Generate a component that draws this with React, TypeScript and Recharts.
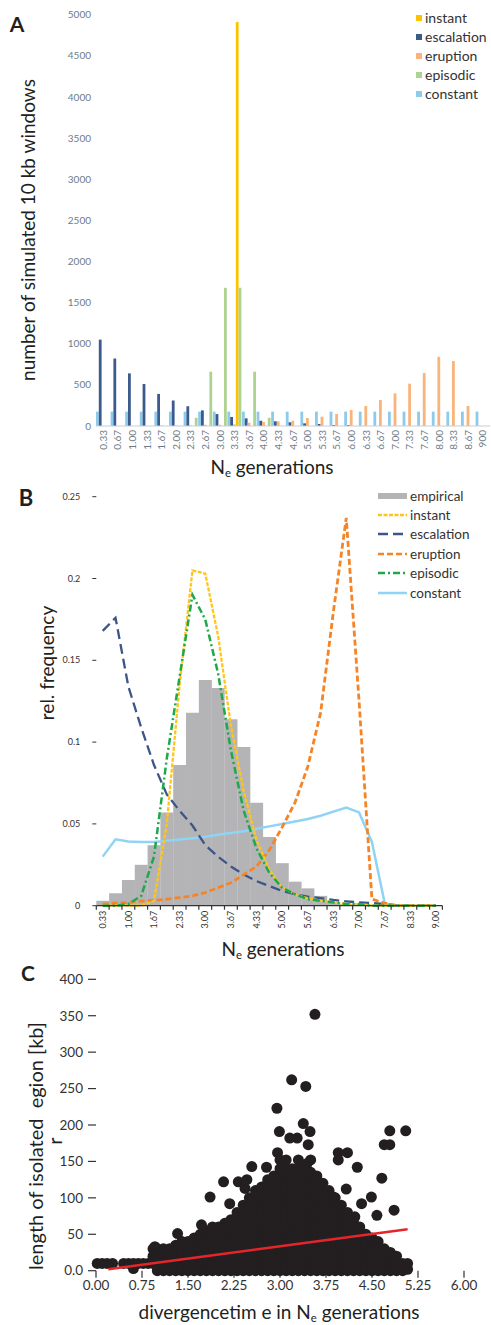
import { BarChart, Bar, XAxis, YAxis, ComposedChart, Line, ScatterChart, Scatter } from 'recharts'

// ---- panel A: simulated windows per N_e generation class ----
const gensA = ['0.33', '0.67', '1.00', '1.33', '1.67', '2.00', '2.33', '2.67', '3.00', '3.33', '3.67', '4.00', '4.33', '4.67', '5.00', '5.33', '5.67', '6.00', '6.33', '6.67', '7.00', '7.33', '7.67', '8.00', '8.33', '8.67', '900']
const constantA = [175, 175, 175, 175, 175, 175, 175, 175, 175, 175, 175, 175, 175, 175, 175, 175, 175, 175, 175, 175, 175, 175, 175, 175, 175, 175, 175]
const escalationA = [1050, 820, 640, 510, 390, 310, 240, 190, 145, 110, 93, 64, 57, 45, 32, 24, 12, 12, 0, 0, 0, 0, 0, 0, 0, 0, 0]
const eruptionA = [0, 0, 0, 0, 5, 5, 5, 15, 15, 20, 40, 48, 57, 64, 97, 113, 146, 194, 243, 316, 397, 514, 643, 841, 789, 243, 0]
const instantA = [0, 0, 0, 0, 0, 0, 0, 0, 0, 4910, 0, 0, 0, 0, 0, 0, 0, 0, 0, 0, 0, 0, 0, 0, 0, 0, 0]
const episodicA = [0, 0, 0, 0, 0, 0, 100, 660, 1680, 1680, 660, 100, 0, 0, 0, 0, 0, 0, 0, 0, 0, 0, 0, 0, 0, 0, 0]
const ticksA = [0, 500, 1000, 1500, 2000, 2500, 3000, 3500, 4000, 4500, 5000]

// ---- panel B: relative frequencies ----
const gensB = ['0.33', '0.67', '1.00', '1.33', '1.67', '2.00', '2.33', '2.67', '3.00', '3.33', '3.67', '4.00', '4.33', '4.67', '5.00', '5.33', '5.67', '6.00', '6.33', '6.67', '7.00', '7.33', '7.67', '8.00', '8.33', '8.67', '9.00']
const empiricalB = [0.003, 0.0076, 0.0157, 0.025, 0.037, 0.057, 0.086, 0.118, 0.138, 0.133, 0.114, 0.097, 0.063, 0.042, 0.026, 0.0147, 0.0106, 0.006, 0.002, 0.001, 0.001, 0, 0, 0, 0, 0, 0]
const instantB = [0, 0, 0, 0, 0.003, 0.05, 0.135, 0.205, 0.203, 0.165, 0.11, 0.07, 0.04, 0.022, 0.011, 0.007, 0.0045, 0.003, 0.002, 0.001, 0.001, 0, 0, 0, 0, 0, 0]
const escalationB = [0.168, 0.176, 0.134, 0.109, 0.086, 0.068, 0.058, 0.049, 0.037, 0.03, 0.024, 0.019, 0.015, 0.012, 0.009, 0.007, 0.0055, 0.0046, 0.0035, 0.0027, 0.002, 0.0016, 0.001, 0, 0, 0, 0]
const eruptionB = [0.001, 0.0015, 0.002, 0.0028, 0.0033, 0.004, 0.005, 0.006, 0.008, 0.011, 0.014, 0.019, 0.024, 0.034, 0.048, 0.063, 0.085, 0.118, 0.18, 0.237, 0.125, 0.004, 0.0015, 0, 0, 0, 0]
const episodicB = [0, 0, 0.001, 0.006, 0.03, 0.09, 0.14, 0.19, 0.175, 0.142, 0.095, 0.058, 0.035, 0.02, 0.011, 0.007, 0.004, 0.003, 0.002, 0.001, 0.001, 0, 0, 0, 0, 0, 0]
const constantB = [0.03, 0.0406, 0.0392, 0.0389, 0.039, 0.0397, 0.0405, 0.0413, 0.0422, 0.0433, 0.0445, 0.0455, 0.047, 0.0485, 0.05, 0.0515, 0.053, 0.055, 0.0575, 0.06, 0.057, 0.039, 0.0015, 0, 0, 0, 0]
const ticksB = [0, 0.05, 0.1, 0.15, 0.2, 0.25]

// ---- panel C: isolated region length vs divergence time ----
const ticksCx = [0, 0.75, 1.5, 2.25, 3, 3.75, 4.5, 5.25, 6]
const ticksCy = [0, 50, 100, 150, 200, 250, 300, 350, 400]
// dense overplotted mass, listed column by column (x, y values)
const coreColumns: [number, number[]][] = [
  [0.02, [10]], [0.1, [10]], [0.18, [10]], [0.27, [10]],
  [0.45, [10]], [0.53, [10]], [0.61, [3, 10]], [0.69, [10]], [0.77, [10]], [0.85, [10]], [0.93, [10, 20, 30]],
  [1.0, [0, 10, 20, 30]], [1.1, [0, 10, 20, 30]], [1.2, [0, 10, 20, 30]], [1.3, [0, 10, 20, 30, 35]],
  [1.4, [0, 10, 20, 30, 40]], [1.5, [0, 10, 20, 30, 40]], [1.6, [0, 10, 20, 30, 40, 45]],
  [1.7, [0, 10, 20, 30, 40, 50]], [1.8, [0, 10, 20, 30, 40, 50, 55]], [1.9, [0, 10, 20, 30, 40, 50, 60]],
  [2.0, [0, 10, 20, 30, 40, 50, 60]], [2.1, [0, 10, 20, 30, 40, 50, 60, 65]],
  [2.2, [0, 10, 20, 30, 40, 50, 60, 70]], [2.3, [0, 10, 20, 30, 40, 50, 60, 70, 80]],
  [2.4, [0, 10, 20, 30, 40, 50, 60, 70, 80, 90]], [2.5, [0, 10, 20, 30, 40, 50, 60, 70, 80, 90, 100]],
  [2.6, [0, 10, 20, 30, 40, 50, 60, 70, 80, 90, 100, 110]], [2.7, [0, 10, 20, 30, 40, 50, 60, 70, 80, 90, 100, 110, 115]],
  [2.8, [0, 10, 20, 30, 40, 50, 60, 70, 80, 90, 100, 110, 120, 125]],
  [2.9, [0, 10, 20, 30, 40, 50, 60, 70, 80, 90, 100, 110, 120, 130]],
  [3.0, [0, 10, 20, 30, 40, 50, 60, 70, 80, 90, 100, 110, 120, 130, 140]],
  [3.1, [0, 10, 20, 30, 40, 50, 60, 70, 80, 90, 100, 110, 120, 130, 140]],
  [3.2, [0, 10, 20, 30, 40, 50, 60, 70, 80, 90, 100, 110, 120, 130, 140]],
  [3.3, [0, 10, 20, 30, 40, 50, 60, 70, 80, 90, 100, 110, 120, 130, 140]],
  [3.4, [0, 10, 20, 30, 40, 50, 60, 70, 80, 90, 100, 110, 120, 130, 140]],
  [3.5, [0, 10, 20, 30, 40, 50, 60, 70, 80, 90, 100, 110, 120, 130, 135]],
  [3.6, [0, 10, 20, 30, 40, 50, 60, 70, 80, 90, 100, 110, 120, 130]],
  [3.7, [0, 10, 20, 30, 40, 50, 60, 70, 80, 90, 100, 110, 120]],
  [3.8, [0, 10, 20, 30, 40, 50, 60, 70, 80, 90, 100, 110]],
  [3.9, [0, 10, 20, 30, 40, 50, 60, 70, 80, 90, 100]],
  [4.0, [0, 10, 20, 30, 40, 50, 60, 70, 80, 90]], [4.1, [0, 10, 20, 30, 40, 50, 60, 70, 80]],
  [4.2, [0, 10, 20, 30, 40, 50, 60, 70]], [4.3, [0, 10, 20, 30, 40, 50, 60]],
  [4.4, [0, 10, 20, 30, 40, 50]], [4.5, [0, 10, 20, 30, 40, 45]], [4.6, [0, 10, 20, 30, 40]],
  [4.7, [0, 10, 20, 30]], [4.8, [0, 10, 20, 25]], [4.9, [0, 10, 20]], [5.0, [0, 10]], [5.08, [2, 10]],
]
const outliers: [number, number][] = [
  [0.96, 33], [1.33, 51], [1.72, 63], [1.86, 101], [2.08, 122], [2.18, 92], [2.32, 122],
  [2.43, 113], [2.46, 125], [2.54, 143], [2.78, 142], [2.95, 223], [2.96, 162], [2.99, 191],
  [3.0, 152], [3.1, 152], [3.16, 182], [3.19, 262], [3.28, 182], [3.3, 152], [3.38, 202],
  [3.42, 253], [3.44, 147], [3.46, 173], [3.49, 191], [3.5, 152], [3.57, 352], [3.87, 101],
  [3.95, 152], [3.95, 162], [4.08, 112], [4.1, 162], [4.22, 74], [4.26, 142], [4.33, 92],
  [4.49, 101], [4.58, 76], [4.66, 127], [4.7, 173], [4.79, 173], [4.79, 192], [4.86, 83], [5.05, 192],
]
const fitLine = [{ x: 0.2, y: 2 }, { x: 5.08, y: 57 }]

const colorsA = { instant: '#fdc300', escalation: '#3d5a8c', eruption: '#f8b47a', episodic: '#aed28f', constant: '#8ecbea' }
const colorsB = { empirical: '#b4b4b7', instant: '#ffc61a', escalation: '#3d5687', eruption: '#f58426', episodic: '#1ea84a', constant: '#8fd3f5' }

const dataA = gensA.map((g, i) => ({
  gen: g,
  constant: constantA[i],
  escalation: escalationA[i],
  eruption: eruptionA[i],
  instant: instantA[i],
  episodic: episodicA[i],
}))

const dataB = gensB.map((g, i) => ({
  gen: g,
  empirical: empiricalB[i],
  instant: instantB[i],
  escalation: escalationB[i],
  eruption: eruptionB[i],
  episodic: episodicB[i],
  constant: constantB[i],
}))

const dotsC = [
  ...coreColumns.flatMap(([x, ys]) => ys.map((y) => ({ x, y }))),
  ...outliers.map(([x, y]) => ({ x, y })),
]

const font = 'Lato, "Open Sans", sans-serif'

const TickA = (props: any) => {
  const { x, y, payload } = props
  return (
    <text transform={`translate(${x},${y}) rotate(-90)`} textAnchor="end" dy="0.35em" fontSize={10} fill="#707b87" fontFamily={font}>
      {payload.value}
    </text>
  )
}

const TickB = (props: any) => {
  const { x, y, payload, index } = props
  const half = payload.offset ?? 6.4
  return (
    <g>
      <line x1={x - half} x2={x - half} y1={y} y2={y + 4} stroke="#333" strokeWidth={1.2} />
      {index === gensB.length - 1 && <line x1={x + half} x2={x + half} y1={y} y2={y + 4} stroke="#333" strokeWidth={1.2} />}
      {index % 2 === 0 && (
        <text transform={`translate(${x},${y + 5}) rotate(-90)`} textAnchor="end" dy="0.35em" fontSize={9} fill="#333" fontFamily={font}>
          {payload.value}
        </text>
      )}
    </g>
  )
}

const Dot = (props: any) => <circle cx={props.cx} cy={props.cy} r={5.5} fill="#231f20" />

const Sub = () => <span style={{ fontSize: '0.6em', verticalAlign: '-0.3em' }}>e</span>

const abs = (left: number, top: number, extra: any = {}) => ({
  position: 'absolute' as const,
  left,
  top,
  whiteSpace: 'nowrap' as const,
  transform: 'translate(-50%,-50%)',
  ...extra,
})

const legendA = [
  ['instant', colorsA.instant],
  ['escalation', colorsA.escalation],
  ['eruption', colorsA.eruption],
  ['episodic', colorsA.episodic],
  ['constant', colorsA.constant],
]

const legendB = [
  ['empirical', colorsB.empirical, 'bar'],
  ['instant', colorsB.instant, '4 1.5'],
  ['escalation', colorsB.escalation, '10 5'],
  ['eruption', colorsB.eruption, '6 3'],
  ['episodic', colorsB.episodic, '7 3 2 3'],
  ['constant', colorsB.constant, ''],
]

export default function App() {
  return (
    <div style={{ position: 'absolute', left: 0, top: 0, width: 491, height: 1325, background: '#fff', fontFamily: font, color: '#231f20' }}>
      {/* A */}
      <div style={{ position: 'absolute', left: 0, top: 0 }}>
        <BarChart width={491} height={470} data={dataA} margin={{ top: 14.7, right: 0.8, left: 0, bottom: 0 }} barGap={0} barSize={2.8}>
          <XAxis dataKey="gen" height={44} interval={0} tick={<TickA />} tickLine={false} tickSize={0} tickMargin={4} axisLine={{ stroke: '#c9ced3' }} />
          <YAxis width={96} domain={[0, 5000]} ticks={ticksA} interval={0} tickLine={false} axisLine={false} tickSize={0} tickMargin={5} tick={{ fontSize: 10, fill: '#707b87', fontFamily: font }} />
          <Bar dataKey="constant" fill={colorsA.constant} isAnimationActive={false} />
          <Bar dataKey="escalation" fill={colorsA.escalation} isAnimationActive={false} />
          <Bar dataKey="eruption" fill={colorsA.eruption} isAnimationActive={false} />
          <Bar dataKey="instant" fill={colorsA.instant} isAnimationActive={false} />
          <Bar dataKey="episodic" fill={colorsA.episodic} isAnimationActive={false} />
        </BarChart>
      </div>
      <div style={abs(17, 23, { fontSize: 21, fontWeight: 700 })}>A</div>
      <div style={abs(27, 230, { fontSize: 19, transform: 'translate(-50%,-50%) rotate(-90deg)' })}>number of simulated 10 kb windows</div>
      <div style={abs(272, 467, { fontSize: 19 })}>N<Sub /> generations</div>
      <div style={{ position: 'absolute', left: 416, top: 8 }}>
        {legendA.map(([name, color]) => (
          <div key={name} style={{ display: 'flex', alignItems: 'center', height: 19, fontSize: 14, color: '#333' }}>
            <span style={{ width: 6, height: 6, background: color, marginRight: 3 }} />
            {name}
          </div>
        ))}
      </div>

      {/* B */}
      <div style={{ position: 'absolute', left: 0, top: 480 }}>
        <ComposedChart width={491} height={470} data={dataB} margin={{ top: 16.7, right: 48.6, left: 0, bottom: 0 }} barCategoryGap={0}>
          <XAxis dataKey="gen" height={44.3} interval={0} tick={<TickB />} tickLine={false} tickSize={0} tickMargin={0} axisLine={{ stroke: '#333', strokeWidth: 1.2 }} />
          <YAxis width={96.3} domain={[0, 0.25]} ticks={ticksB} interval={0} axisLine={false} tickSize={4} tickMargin={12} tickLine={{ stroke: '#333' }} tick={{ fontSize: 9, fill: '#333', fontFamily: font }} />
          <Bar dataKey="empirical" fill={colorsB.empirical} isAnimationActive={false} />
          <Line dataKey="constant" type="linear" stroke={colorsB.constant} strokeWidth={2.5} dot={false} isAnimationActive={false} />
          <Line dataKey="escalation" type="linear" stroke={colorsB.escalation} strokeWidth={2.3} strokeDasharray="10 5" dot={false} isAnimationActive={false} />
          <Line dataKey="eruption" type="linear" stroke={colorsB.eruption} strokeWidth={2.8} strokeDasharray="6 3" dot={false} isAnimationActive={false} />
          <Line dataKey="instant" type="linear" stroke={colorsB.instant} strokeWidth={2.3} strokeDasharray="4 1.5" dot={false} isAnimationActive={false} />
          <Line dataKey="episodic" type="linear" stroke={colorsB.episodic} strokeWidth={2.5} strokeDasharray="7 3 2 3" dot={false} isAnimationActive={false} />
        </ComposedChart>
      </div>
      <div style={abs(26, 497, { fontSize: 22, fontWeight: 700 })}>B</div>
      <div style={abs(46, 663, { fontSize: 19, transform: 'translate(-50%,-50%) rotate(-90deg)' })}>rel. frequency</div>
      <div style={abs(283, 949, { fontSize: 19 })}>N<Sub /> generations</div>
      <div style={{ position: 'absolute', left: 378, top: 486 }}>
        {legendB.map(([name, color, dash]) => (
          <div key={name} style={{ display: 'flex', alignItems: 'center', height: 19.4, fontSize: 13.5, color: '#333' }}>
            <svg width={29} height={8} style={{ marginRight: 3 }}>
              {dash === 'bar' ? (
                <rect x={0} y={1} width={29} height={6} fill={color} />
              ) : (
                <line x1={0} x2={29} y1={4} y2={4} stroke={color} strokeWidth={2.5} strokeDasharray={dash || undefined} />
              )}
            </svg>
            {name}
          </div>
        ))}
      </div>

      {/* C */}
      <div style={{ position: 'absolute', left: 0, top: 960 }}>
        <ScatterChart width={491} height={365} margin={{ top: 19.3, right: 27, left: 0, bottom: 0 }}>
          <XAxis type="number" dataKey="x" domain={[0, 6]} ticks={ticksCx} interval={0} height={54.3} axisLine={false} tickSize={7} tickMargin={3} tickLine={{ stroke: '#333', strokeWidth: 1.2 }} tickFormatter={(v) => v.toFixed(2)} tick={{ fontSize: 13.5, fill: '#333', fontFamily: font }} />
          <YAxis type="number" dataKey="y" domain={[0, 400]} ticks={ticksCy} interval={0} width={96} axisLine={false} tickSize={8} tickMargin={5} tickLine={{ stroke: '#333', strokeWidth: 1.2 }} tickFormatter={(v) => (v === 0 ? '0.0' : String(v))} tick={{ fontSize: 13.5, fill: '#333', fontFamily: font }} />
          <Scatter data={dotsC} shape={<Dot />} isAnimationActive={false} />
          <Scatter data={fitLine} line={{ stroke: '#e4262b', strokeWidth: 2.5 }} shape={() => <g />} isAnimationActive={false} />
        </ScatterChart>
      </div>
      <div style={abs(28, 972, { fontSize: 21, fontWeight: 700 })}>C</div>
      <div style={abs(35, 1146, { fontSize: 20, transform: 'translate(-50%,-50%) rotate(-90deg)' })}>length of isolated &nbsp;egion [kb]</div>
      <div style={abs(54, 1141, { fontSize: 20, transform: 'translate(-50%,-50%) rotate(-90deg)' })}>r</div>
      <div style={abs(279, 1312, { fontSize: 19 })}>divergencetim e in N<Sub /> generations</div>
    </div>
  )
}
